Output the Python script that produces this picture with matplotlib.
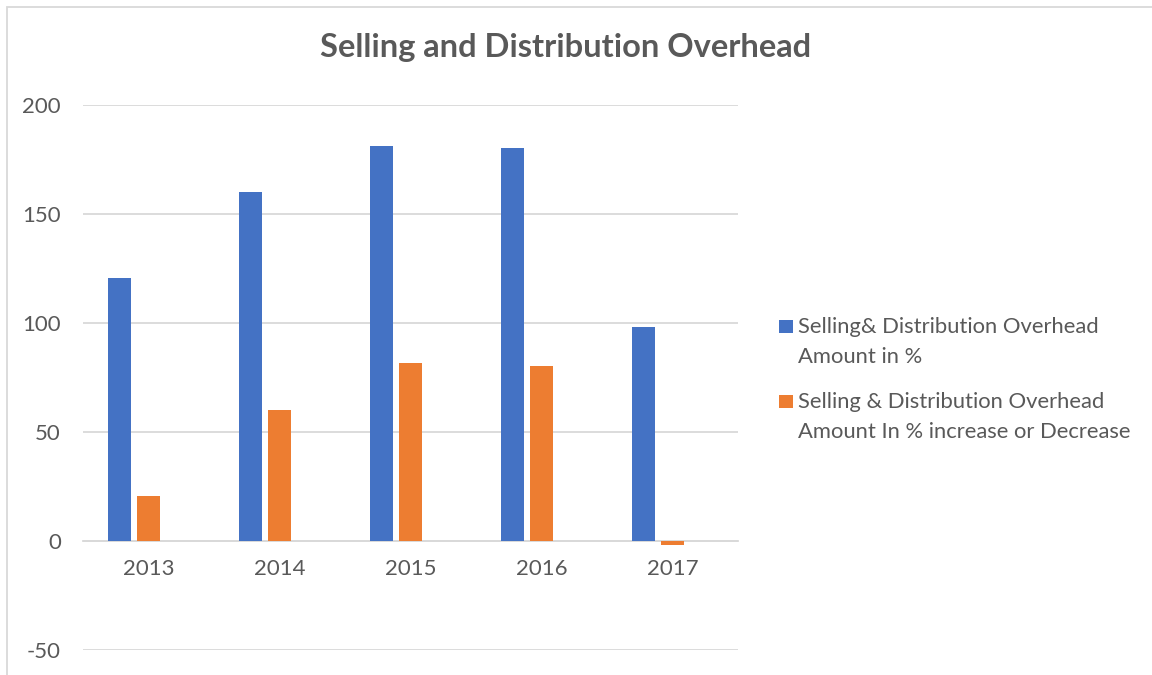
import matplotlib
matplotlib.use("Agg")
import matplotlib.pyplot as plt
from matplotlib.patches import Rectangle
import numpy as np

years = ["2013", "2014", "2015", "2016", "2017"]
amount_pct = [120.5, 160, 181, 180.3, 98]
change_pct = [20.5, 60, 81.5, 80.3, -2]
series_names = ["Selling& Distribution Overhead\nAmount in %",
                "Selling & Distribution Overhead\nAmount In % increase or Decrease"]
title = "Selling and Distribution Overhead"
yticks = [-50, 0, 50, 100, 150, 200]

BLUE = "#4472C4"
ORANGE = "#ED7D31"
GRID = "#D9D9D9"
TXT = "#595959"

plt.rcParams['font.family'] = ['Lato', 'DejaVu Sans']

W, H = 1152, 675
fig = plt.figure(figsize=(W / 100, H / 100), dpi=100)
fig.patch.set_facecolor("white")

# chart border (Excel frame)
fig.patches.append(Rectangle((7 / W, -0.1), 1.2, 1.1 - 7 / H, transform=fig.transFigure,
                             fill=False, edgecolor=GRID, linewidth=1.3, zorder=0))

ax = fig.add_axes([83 / W, 1 - 650 / H, (738 - 83) / W, (650 - 105) / H])
x = np.arange(len(years))
bw = 0.176
off = 0.221
b1 = ax.bar(x - off, amount_pct, width=bw, color=BLUE, zorder=3)
b2 = ax.bar(x, change_pct, width=bw, color=ORANGE, zorder=3)

ax.set_xlim(-0.5, len(years) - 0.5)
ax.set_ylim(-50, 200)
ax.set_yticks(yticks)
ax.set_yticklabels([str(v) for v in yticks])
ax.set_xticks(x)
ax.set_xticklabels(years)
ax.tick_params(axis='both', length=0, labelsize=16, labelcolor=TXT)
ax.tick_params(axis='y', pad=16)
ax.tick_params(axis='x', pad=13)
for name, s in ax.spines.items():
    s.set_visible(False)
ax.spines['bottom'].set_visible(True)
ax.spines['bottom'].set_position(('data', 0))
ax.spines['bottom'].set_color(GRID)
ax.spines['bottom'].set_linewidth(1.3)
ax.yaxis.grid(True, color=GRID, linewidth=1.3, zorder=0)
ax.set_axisbelow(True)

fig.text(566 / W, 1 - 57 / H, title, ha='center', va='baseline', fontsize=23.5,
         fontweight='bold', color=TXT)

# legend (drawn to match Excel layout: marker aligned with first line)
entry_base = [333, 408]
line_gap = 29.5
for i, (bars, name) in enumerate(zip([b1, b2], series_names)):
    col = bars.patches[0].get_facecolor()
    y0 = entry_base[i]
    fig.patches.append(Rectangle((779 / W, 1 - y0 / H), 14 / W, 13.5 / H,
                                 transform=fig.transFigure, facecolor=col,
                                 edgecolor='none'))
    for j, line in enumerate(name.split("\n")):
        fig.text(798 / W, 1 - (y0 + j * line_gap) / H, line, ha='left', va='baseline',
                 fontsize=15.8, color=TXT)

fig.savefig("out.png", dpi=100, facecolor="white")
